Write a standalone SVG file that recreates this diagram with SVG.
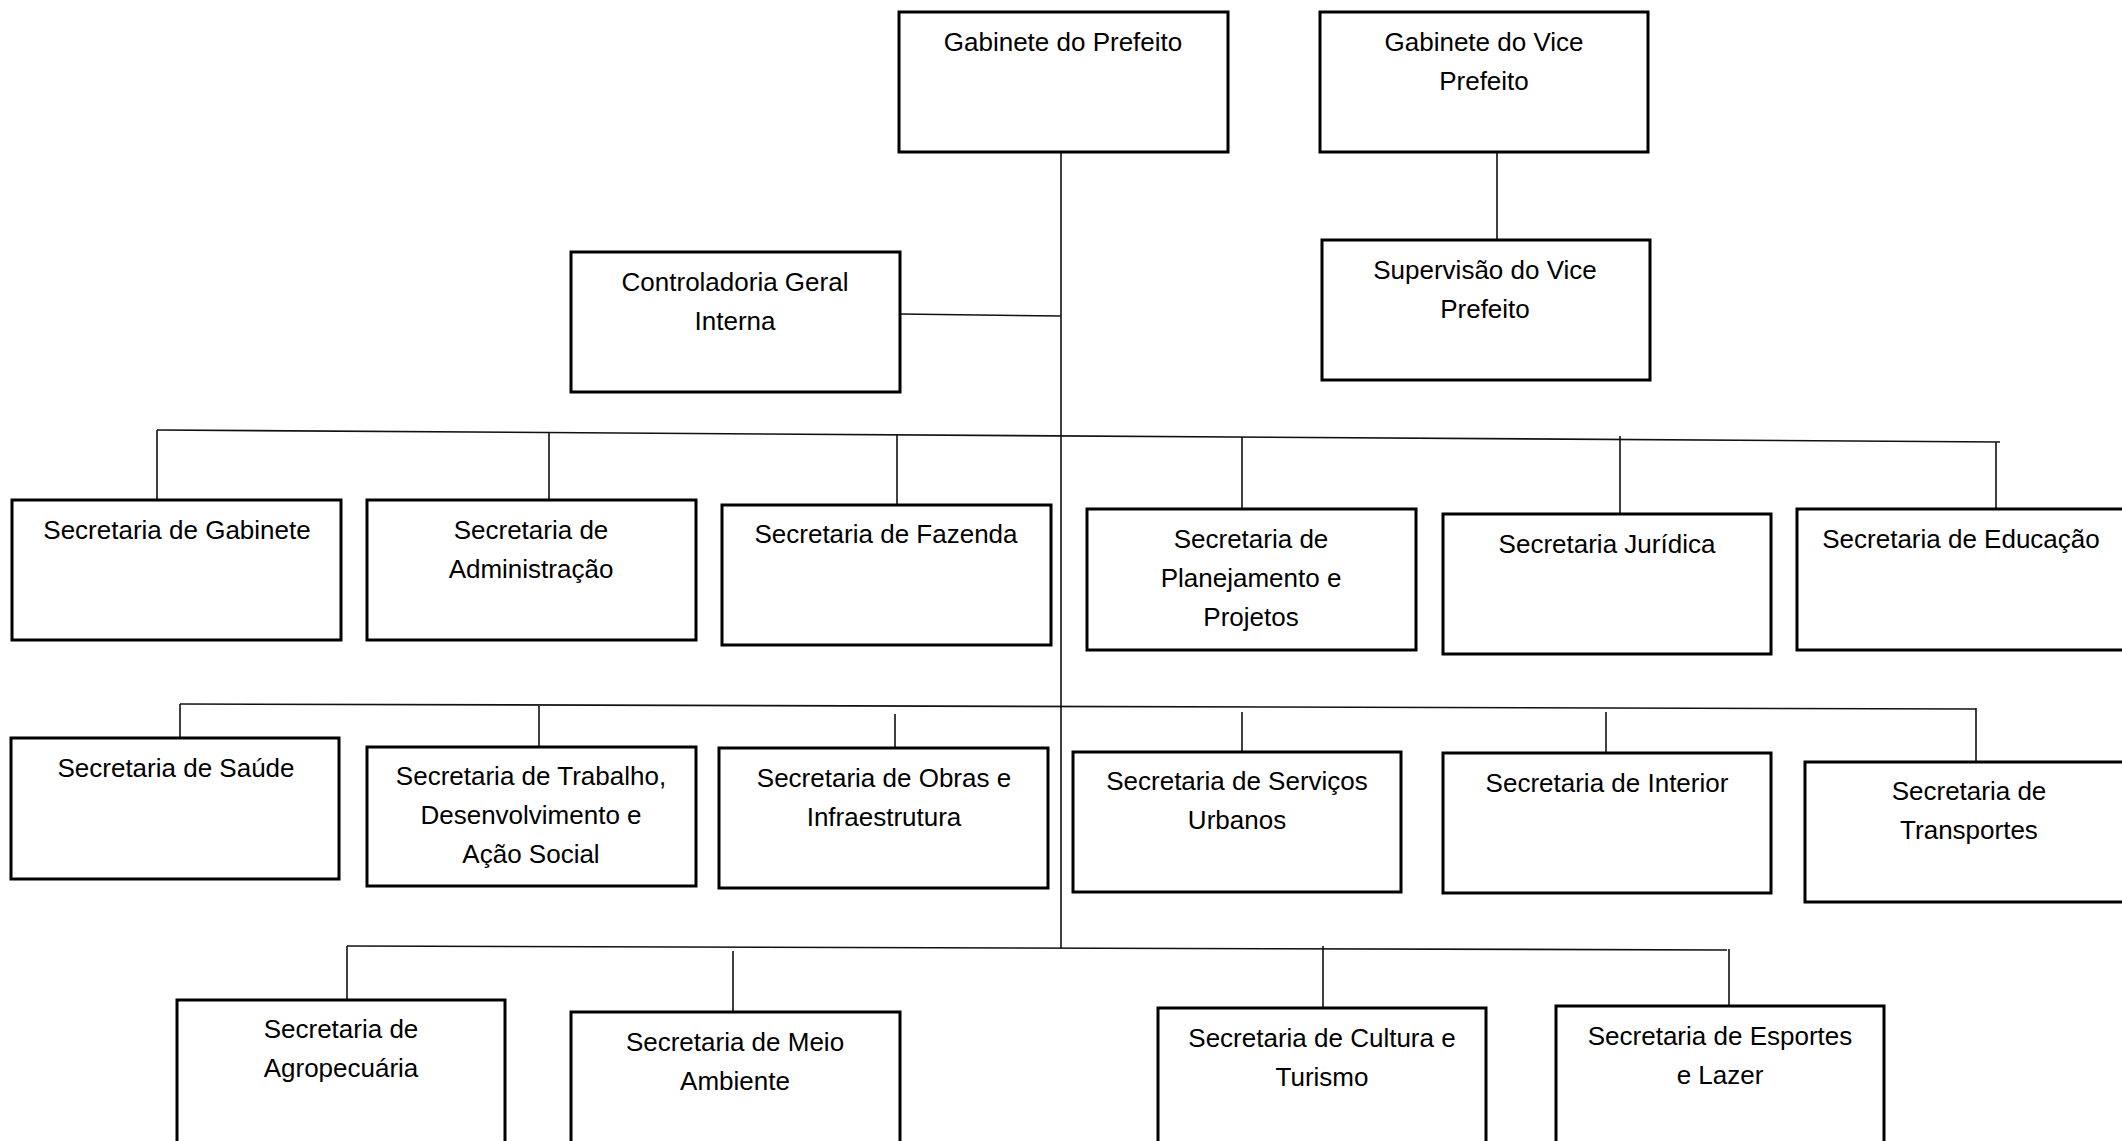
<svg xmlns="http://www.w3.org/2000/svg" width="2122" height="1141" viewBox="0 0 2122 1141">
<style>
.box{fill:#fff;stroke:#000;stroke-width:3}
.ln{stroke:#111;stroke-width:1.6;fill:none}
text{font-family:"Liberation Sans",Arial,sans-serif;font-size:26px;fill:#000;text-anchor:middle}
</style>
<rect width="2122" height="1141" fill="#fff"/>
<g id="connectors">
<line class="ln" x1="1061" y1="152" x2="1061" y2="948"/>
<line class="ln" x1="900" y1="314" x2="1061" y2="316"/>
<line class="ln" x1="1497" y1="152" x2="1497" y2="240"/>
<line class="ln" x1="157" y1="430" x2="2000" y2="442"/>
<line class="ln" x1="157" y1="430" x2="157" y2="500"/>
<line class="ln" x1="549" y1="433" x2="549" y2="500"/>
<line class="ln" x1="897" y1="435" x2="897" y2="505"/>
<line class="ln" x1="1242" y1="437" x2="1242" y2="509"/>
<line class="ln" x1="1620" y1="436" x2="1620" y2="514"/>
<line class="ln" x1="1996" y1="442" x2="1996" y2="509"/>
<line class="ln" x1="180" y1="704" x2="1976" y2="709"/>
<line class="ln" x1="180" y1="704" x2="180" y2="739"/>
<line class="ln" x1="539" y1="706" x2="539" y2="747"/>
<line class="ln" x1="895" y1="714" x2="895" y2="748"/>
<line class="ln" x1="1242" y1="712" x2="1242" y2="752"/>
<line class="ln" x1="1606" y1="712" x2="1606" y2="753"/>
<line class="ln" x1="1976" y1="708" x2="1976" y2="762"/>
<line class="ln" x1="347" y1="946" x2="1727" y2="950"/>
<line class="ln" x1="347" y1="946" x2="347" y2="1000"/>
<line class="ln" x1="733" y1="951" x2="733" y2="1012"/>
<line class="ln" x1="1323" y1="946" x2="1323" y2="1008"/>
<line class="ln" x1="1729" y1="949" x2="1729" y2="1006"/>
</g>
<g id="gabinete-prefeito"><rect class="box" x="899" y="12" width="329" height="140"/><text x="1063" y="51">Gabinete do Prefeito</text></g>
<g id="gabinete-vice"><rect class="box" x="1320" y="12" width="328" height="140"/><text x="1484" y="51">Gabinete do Vice</text><text x="1484" y="90">Prefeito</text></g>
<g id="supervisao-vice"><rect class="box" x="1322" y="240" width="328" height="140"/><text x="1485" y="279">Supervisão do Vice</text><text x="1485" y="318">Prefeito</text></g>
<g id="controladoria"><rect class="box" x="571" y="252" width="329" height="140"/><text x="735" y="291">Controladoria Geral</text><text x="735" y="330">Interna</text></g>
<g id="sec-gabinete"><rect class="box" x="12" y="500" width="329" height="140"/><text x="177" y="539">Secretaria de Gabinete</text></g>
<g id="sec-administracao"><rect class="box" x="367" y="500" width="329" height="140"/><text x="531" y="539">Secretaria de</text><text x="531" y="578">Administração</text></g>
<g id="sec-fazenda"><rect class="box" x="722" y="505" width="329" height="140"/><text x="886" y="543">Secretaria de Fazenda</text></g>
<g id="sec-planejamento"><rect class="box" x="1087" y="509" width="329" height="141"/><text x="1251" y="548">Secretaria de</text><text x="1251" y="587">Planejamento e</text><text x="1251" y="626">Projetos</text></g>
<g id="sec-juridica"><rect class="box" x="1443" y="514" width="328" height="140"/><text x="1607" y="553">Secretaria Jurídica</text></g>
<g id="sec-educacao"><rect class="box" x="1797" y="509" width="330" height="141"/><text x="1961" y="548">Secretaria de Educação</text></g>
<g id="sec-saude"><rect class="box" x="11" y="738" width="328" height="141"/><text x="176" y="777">Secretaria de Saúde</text></g>
<g id="sec-trabalho"><rect class="box" x="367" y="747" width="329" height="139"/><text x="531" y="785">Secretaria de Trabalho,</text><text x="531" y="824">Desenvolvimento e</text><text x="531" y="863">Ação Social</text></g>
<g id="sec-obras"><rect class="box" x="719" y="748" width="329" height="140"/><text x="884" y="787">Secretaria de Obras e</text><text x="884" y="826">Infraestrutura</text></g>
<g id="sec-servicos"><rect class="box" x="1073" y="752" width="328" height="140"/><text x="1237" y="790">Secretaria de Serviços</text><text x="1237" y="829">Urbanos</text></g>
<g id="sec-interior"><rect class="box" x="1443" y="753" width="328" height="140"/><text x="1607" y="792">Secretaria de Interior</text></g>
<g id="sec-transportes"><rect class="box" x="1805" y="762" width="330" height="140"/><text x="1969" y="800">Secretaria de</text><text x="1969" y="839">Transportes</text></g>
<g id="sec-agropecuaria"><rect class="box" x="177" y="1000" width="328" height="160"/><text x="341" y="1038">Secretaria de</text><text x="341" y="1077">Agropecuária</text></g>
<g id="sec-meio-ambiente"><rect class="box" x="571" y="1012" width="329" height="160"/><text x="735" y="1051">Secretaria de Meio</text><text x="735" y="1090">Ambiente</text></g>
<g id="sec-cultura"><rect class="box" x="1158" y="1008" width="328" height="160"/><text x="1322" y="1047">Secretaria de Cultura e</text><text x="1322" y="1086">Turismo</text></g>
<g id="sec-esportes"><rect class="box" x="1556" y="1006" width="328" height="160"/><text x="1720" y="1045">Secretaria de Esportes</text><text x="1720" y="1084">e Lazer</text></g>
</svg>
